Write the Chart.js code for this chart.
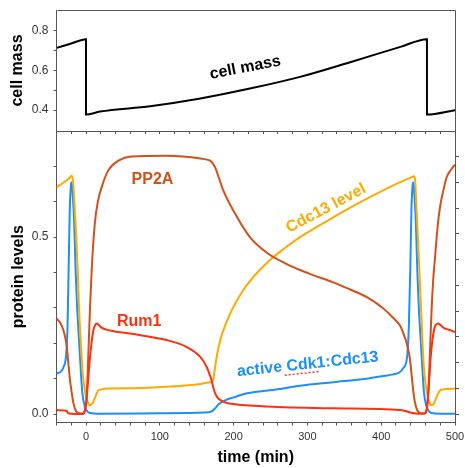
<!DOCTYPE html>
<html>
<head>
<meta charset="utf-8">
<script src="https://cdn.jsdelivr.net/npm/chart.js@4.4.0/dist/chart.umd.min.js"></script>
<style>
  html, body { margin: 0; padding: 0; background: #fff; }
  #wrap { position: relative; width: 465px; height: 468px; }
  #wrap canvas { position: absolute; left: 0; }
  #mass-chart { top: 0; }
  #protein-chart { top: 125px; }
</style>
</head>
<body>
<div id="wrap">
  <canvas id="mass-chart" width="465" height="140"></canvas>
  <canvas id="protein-chart" width="465" height="343"></canvas>
</div>
<script>
// time axis (min)
const timeRange = [-40, 500];
const timeTickLabels = [0, 100, 200, 300, 400, 500];

// cell mass panel
const massTime = [-40, -20, 0, 0, 19, 87, 155, 222, 290, 358, 426, 462, 462, 500];
const massValue = [0.714, 0.736, 0.758, 0.378, 0.393, 0.42, 0.459, 0.509, 0.568, 0.642, 0.719, 0.758, 0.378, 0.40];
const massTicks = [0.4, 0.5, 0.6, 0.7, 0.8];
const massTickLabels = ["0.4", "", "0.6", "", "0.8"];

// protein levels panel
const cdkTime = [-40, -34, -30, -27, -25, -23.5, -22, -20.5, -19.4, -18, -16, -14, -12, -9.5, -7, -5, -2, 1, 5, 20, 100, 160, 170, 175, 180, 190, 200, 215, 260, 290, 335, 380, 405, 416, 425, 430, 435, 437.5, 439.5, 441, 442.5, 443.6, 445, 447, 449, 451, 453.5, 456, 458, 461, 464, 468, 480, 500];
const cdkLevel = [0.115, 0.12, 0.135, 0.165, 0.25, 0.42, 0.58, 0.645, 0.655, 0.62, 0.54, 0.4, 0.3, 0.21, 0.12, 0.06, 0.025, 0.01, 0.003, 0.001, 0.002, 0.004, 0.007, 0.016, 0.028, 0.04, 0.047, 0.057, 0.07, 0.08, 0.09, 0.1, 0.108, 0.112, 0.118, 0.13, 0.16, 0.25, 0.42, 0.58, 0.645, 0.655, 0.62, 0.54, 0.4, 0.3, 0.21, 0.12, 0.06, 0.025, 0.01, 0.003, 0.001, 0.001];

const cdc13Time = [-40, -30, -22, -19.5, -17.5, -15, -13, -11, -9.5, -7, -4.5, -1, 2, 5, 8, 12, 16, 20, 30, 64, 109, 155, 168, 172, 174, 177, 182, 190, 199, 213, 230, 250, 270, 290, 335, 380, 425, 440, 444.5, 446, 448, 450, 452, 454, 456, 458.5, 462, 465, 468, 471, 475, 479, 483, 490, 500];
const cdc13Level = [0.641, 0.655, 0.668, 0.674, 0.655, 0.57, 0.49, 0.39, 0.3, 0.2, 0.115, 0.06, 0.035, 0.025, 0.028, 0.045, 0.065, 0.069, 0.072, 0.073, 0.077, 0.085, 0.09, 0.094, 0.12, 0.16, 0.21, 0.258, 0.3, 0.35, 0.395, 0.437, 0.47, 0.5, 0.556, 0.608, 0.655, 0.668, 0.672, 0.66, 0.57, 0.49, 0.39, 0.3, 0.2, 0.115, 0.06, 0.035, 0.025, 0.028, 0.048, 0.065, 0.069, 0.071, 0.072];

const pp2aTime = [-40, -35, -30.7, -28, -26, -24, -21.7, -19, -17, -14, -10, -4, -1, 1, 3, 5.4, 8, 12, 16, 21, 30, 44, 62, 109, 155, 168, 172, 175, 180, 186, 199.6, 222, 245, 270, 290, 306, 335, 351, 380, 403, 416, 425.5, 430, 434.5, 439, 441, 443.5, 446, 449, 452.6, 458, 461.6, 463.5, 465, 466.5, 468.4, 470.5, 473, 476, 479.7, 484, 488.8, 495, 500];
const pp2aLevel = [0.27, 0.258, 0.237, 0.215, 0.19, 0.145, 0.096, 0.055, 0.03, 0.01, 0.002, 0.001, 0.015, 0.05, 0.16, 0.3, 0.42, 0.54, 0.6, 0.64, 0.688, 0.716, 0.728, 0.73, 0.722, 0.716, 0.708, 0.697, 0.668, 0.632, 0.575, 0.5, 0.456, 0.426, 0.407, 0.394, 0.372, 0.358, 0.331, 0.298, 0.272, 0.25, 0.228, 0.2, 0.155, 0.115, 0.065, 0.03, 0.01, 0.002, 0.001, 0.01, 0.05, 0.115, 0.2, 0.3, 0.38, 0.444, 0.52, 0.585, 0.63, 0.67, 0.692, 0.705];

const rum1Time = [-40, -30, -26, -24, -15, -4, -1, 1, 3, 5.4, 8, 10, 12.5, 14.5, 18, 21, 32.5, 64, 109, 136, 154.5, 163.5, 167, 170, 172.5, 175, 178, 181.6, 190, 199.6, 245, 335, 425.5, 435, 439, 450, 459, 461.6, 463.5, 465.5, 467, 469.5, 471.5, 474, 477.4, 481, 485, 489, 500];
const rum1Level = [0.011, 0.01, 0.008, 0.002, 0, 0.001, 0.015, 0.05, 0.1, 0.16, 0.21, 0.237, 0.252, 0.256, 0.25, 0.244, 0.236, 0.226, 0.209, 0.19, 0.162, 0.133, 0.115, 0.096, 0.075, 0.058, 0.047, 0.04, 0.032, 0.028, 0.021, 0.016, 0.011, 0.007, 0.004, 0.001, 0.002, 0.015, 0.05, 0.11, 0.16, 0.21, 0.237, 0.252, 0.256, 0.25, 0.243, 0.24, 0.232];

const proteinTicks = [0, 0.1, 0.2, 0.3, 0.4, 0.5, 0.6, 0.7];
const proteinTickLabels = ["0.0", "", "", "", "", "0.5", "", ""];
const rightTicks = [0, 1, 2, 3, 4, 5, 6, 7, 8, 9, 10];

const fontFamily = "'Liberation Sans', Arial, Helvetica, sans-serif";
const labelFont = "bold 16px " + fontFamily;
const axisColor = "#555";
const tickTextColor = "#333";

function toPoints(xs, ys) {
  return xs.map((x, i) => ({ x: x, y: ys[i] }));
}

function lineSet(xs, ys, color) {
  return {
    data: toPoints(xs, ys),
    borderColor: color,
    borderWidth: 2,
    pointRadius: 0,
    fill: false,
    cubicInterpolationMode: "monotone",
  };
}

// fixed axis box; no extra room for half tick labels
function fixBox(size) {
  return (scale) => {
    if (scale.isHorizontal()) scale.height = size;
    else scale.width = size;
    scale.paddingTop = 0;
    scale.paddingBottom = 0;
    scale.paddingLeft = 0;
    scale.paddingRight = 0;
  };
}

// draws the top and right edges of the frame
const frameEdges = {
  id: "frameEdges",
  afterDraw(chart) {
    const { ctx, chartArea: a } = chart;
    ctx.save();
    ctx.strokeStyle = axisColor;
    ctx.lineWidth = 1;
    ctx.beginPath();
    ctx.moveTo(Math.round(a.left) + 0.5, Math.round(a.top) + 0.5);
    ctx.lineTo(Math.round(a.right) + 0.5, Math.round(a.top) + 0.5);
    ctx.lineTo(Math.round(a.right) + 0.5, Math.round(a.bottom) + 0.5);
    ctx.stroke();
    ctx.restore();
  },
};

function drawLabel(ctx, text, x, y, angle, color) {
  ctx.save();
  ctx.translate(x, y);
  ctx.rotate((angle * Math.PI) / 180);
  ctx.font = labelFont;
  ctx.fillStyle = color;
  ctx.textAlign = "center";
  ctx.textBaseline = "alphabetic";
  ctx.fillText(text, 0, 0);
  ctx.restore();
}

const massLabels = {
  id: "massLabels",
  afterDatasetsDraw(chart) {
    const { ctx, scales } = chart;
    drawLabel(ctx, "cell mass", scales.x.getPixelForValue(217), scales.y.getPixelForValue(0.592), -11, "#000");
  },
};

const proteinLabels = {
  id: "proteinLabels",
  afterDatasetsDraw(chart) {
    const { ctx, scales } = chart;
    const px = (t) => scales.x.getPixelForValue(t);
    const py = (v) => scales.y.getPixelForValue(v);
    drawLabel(ctx, "PP2A", px(90), py(0.65), 0, "#d4501a");
    drawLabel(ctx, "Rum1", px(72), py(0.248), 0, "#ff3010");
    drawLabel(ctx, "Cdc13 level", px(328), py(0.57), -28, "#ffaa00");

    // active Cdk1:Cdc13 with the dotted underline under "Cdk1"
    const cx = px(301), cy = py(0.128);
    drawLabel(ctx, "active Cdk1:Cdc13", cx, cy, -6, "#1a8fff");
    ctx.save();
    ctx.translate(cx, cy);
    ctx.rotate((-6 * Math.PI) / 180);
    ctx.strokeStyle = "#e8402a";
    ctx.lineWidth = 1.5;
    ctx.setLineDash([2, 2]);
    ctx.beginPath();
    ctx.moveTo(-24, 4);
    ctx.lineTo(12, 4);
    ctx.stroke();
    ctx.restore();
  },
};

const commonPlugins = { legend: { display: false }, tooltip: { enabled: false } };

new Chart(document.getElementById("mass-chart"), {
  type: "line",
  data: { datasets: [lineSet(massTime, massValue, "#000")] },
  options: {
    responsive: false,
    animation: false,
    layout: { autoPadding: false, padding: { top: 10, right: 10, left: 0, bottom: 0 } },
    plugins: commonPlugins,
    scales: {
      x: {
        type: "linear",
        min: timeRange[0],
        max: timeRange[1],
        ticks: { display: false, stepSize: 20 },
        grid: { drawOnChartArea: false, tickLength: 3, color: axisColor },
        border: { color: axisColor },
        afterFit: fixBox(9),
      },
      y: {
        min: 0.295,
        max: 0.905,
        afterBuildTicks(scale) { scale.ticks = massTicks.map((v) => ({ value: v })); },
        ticks: {
          callback: (value, index) => massTickLabels[index],
          color: tickTextColor,
          font: { size: 12, family: fontFamily },
          padding: 5,
        },
        grid: { drawOnChartArea: false, tickLength: 3, color: axisColor },
        border: { color: axisColor },
        title: {
          display: true,
          text: "cell mass",
          color: "#000",
          font: { size: 16, weight: "bold", family: fontFamily },
          padding: { top: 8, bottom: 0 },
        },
        afterFit: fixBox(56.5),
      },
    },
  },
  plugins: [frameEdges, massLabels],
});

new Chart(document.getElementById("protein-chart"), {
  type: "line",
  data: {
    datasets: [
      lineSet(rum1Time, rum1Level, "#ff3010"),
      lineSet(pp2aTime, pp2aLevel, "#d4501a"),
      lineSet(cdc13Time, cdc13Level, "#ffaa00"),
      lineSet(cdkTime, cdkLevel, "#1a8fff"),
    ],
  },
  options: {
    responsive: false,
    animation: false,
    layout: { autoPadding: false, padding: { top: 6, right: 0, left: 0, bottom: 0 } },
    plugins: commonPlugins,
    scales: {
      x: {
        type: "linear",
        min: timeRange[0],
        max: timeRange[1],
        ticks: {
          stepSize: 20,
          autoSkip: false,
          maxRotation: 0,
          callback: (value) => (timeTickLabels.includes(value) ? String(value) : ""),
          color: tickTextColor,
          font: { size: 11, family: fontFamily },
          padding: 5,
        },
        grid: { drawOnChartArea: false, tickLength: 3, color: axisColor },
        border: { color: axisColor },
        title: {
          display: true,
          text: "time (min)",
          color: "#000",
          font: { size: 16, weight: "bold", family: fontFamily },
          padding: { top: 0, bottom: 1 },
        },
        afterFit: fixBox(45.5),
      },
      y: {
        min: -0.024,
        max: 0.8,
        afterBuildTicks(scale) { scale.ticks = proteinTicks.map((v) => ({ value: v })); },
        ticks: {
          callback: (value, index) => proteinTickLabels[index],
          color: tickTextColor,
          font: { size: 12, family: fontFamily },
          padding: 5,
        },
        grid: { drawOnChartArea: false, tickLength: 3, color: axisColor },
        border: { color: axisColor },
        title: {
          display: true,
          text: "protein levels",
          color: "#000",
          font: { size: 16, weight: "bold", family: fontFamily },
          padding: { top: 9, bottom: 0 },
        },
        afterFit: fixBox(56.5),
      },
      yRight: {
        position: "right",
        min: -0.33,
        max: 11,
        afterBuildTicks(scale) { scale.ticks = rightTicks.map((v) => ({ value: v })); },
        ticks: { display: false },
        grid: { drawOnChartArea: false, tickLength: 4, color: axisColor },
        border: { color: axisColor },
        afterFit: fixBox(10),
      },
    },
  },
  plugins: [frameEdges, proteinLabels],
});
</script>
</body>
</html>
